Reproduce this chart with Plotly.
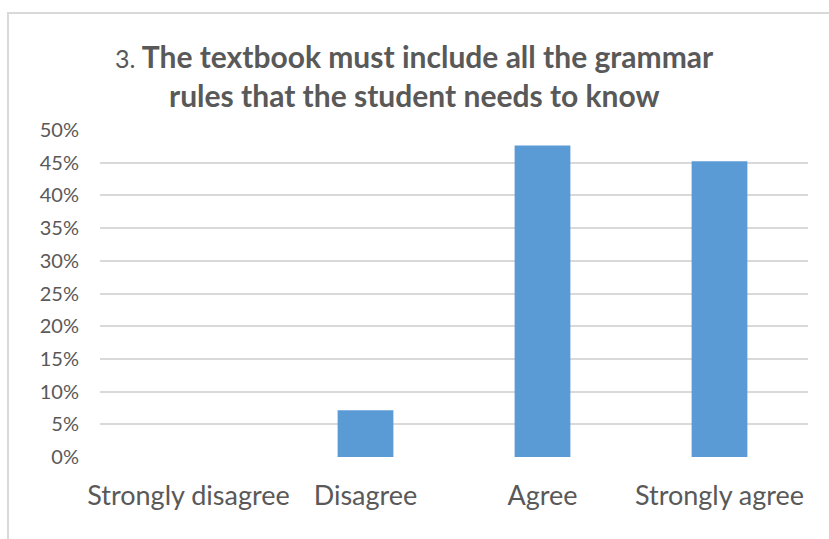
import plotly.graph_objects as go

categories = ["Strongly disagree", "Disagree", "Agree", "Strongly agree"]
values = [0.0, 0.0714, 0.4762, 0.4524]
y_ticks = [0, 0.05, 0.10, 0.15, 0.20, 0.25, 0.30, 0.35, 0.40, 0.45, 0.50]
y_tick_labels = ["0%", "5%", "10%", "15%", "20%", "25%", "30%", "35%", "40%", "45%", "50%"]
title_lines = ["<span style='font-size:25px;font-weight:normal'>3. </span><b>The textbook must include all the grammar</b>",
               "<b>rules that the student needs to know</b>"]

TXT = "#595959"
GRID = "#d9d9d9"

fig = go.Figure(go.Bar(x=categories, y=values, marker_color="#5b9bd5", marker_line_width=0))

W, H = 829, 539
L, R, T, B = 100, 21, 130, 82
pw = W - L - R
ph = H - T - B

def py(pix):
    return (T + ph - pix) / ph

def px(pix):
    return (pix - L) / pw

fig.update_layout(
    width=W, height=H,
    margin=dict(l=L, r=R, t=T, b=B, pad=0),
    paper_bgcolor="white", plot_bgcolor="white",
    bargap=0.685,
    showlegend=False,
    font=dict(family="Lato", color=TXT),
)

for txt, yc in zip(title_lines, [56, 95]):
    fig.add_annotation(text=txt, xref="paper", yref="paper", x=px(414), y=py(yc),
                       xanchor="center", yanchor="middle", showarrow=False,
                       font=dict(family="Lato", size=30, color=TXT))

fig.update_yaxes(
    range=[0, 0.5], tickvals=y_ticks, ticktext=y_tick_labels,
    showgrid=True, gridcolor=GRID, gridwidth=1.5, zeroline=False,
    showline=False, ticks="", tickfont=dict(size=20, color=TXT),
    ticklabelstandoff=20, fixedrange=True,
)
fig.update_xaxes(
    showgrid=False, zeroline=False, showline=False, ticks="",
    tickfont=dict(size=27, color=TXT), ticklabelstandoff=20,
)

# outer chart border
fig.add_shape(type="rect", xref="paper", yref="paper",
              x0=px(8), x1=px(W + 5),
              y0=py(H + 5), y1=py(13),
              line=dict(color=GRID, width=2), fillcolor="rgba(0,0,0,0)", layer="below")

fig.write_html("out.html")
